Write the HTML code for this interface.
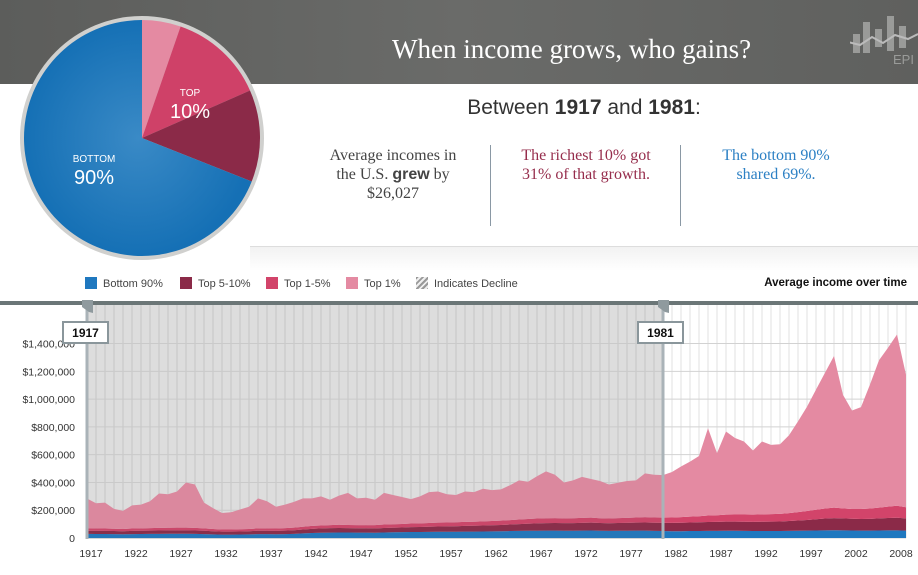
<!DOCTYPE html>
<html><head><meta charset="utf-8"><style>
body{margin:0;width:918px;height:575px;overflow:hidden;background:#fff;font-family:"Liberation Sans",sans-serif}
#hdr{position:absolute;left:0;top:0;width:918px;height:84px;background:linear-gradient(90deg,#5c5d5b,#6a6b69 50%,#5f605e)}
#title{position:absolute;left:392px;top:34px;font-family:"Liberation Serif",serif;color:#fff;font-size:27px}
.stat{position:absolute;font-family:"Liberation Serif",serif;font-size:16px;line-height:19px;text-align:center}
.leg{position:absolute;top:277px;font-size:11px;color:#444}
.leg i{display:inline-block;width:12px;height:12px;vertical-align:-2px;margin-right:6px}
</style></head><body>
<div id="hdr"></div>
<div id="title">When income grows, who gains?</div>
<svg style="position:absolute;left:850px;top:14px" width="68" height="52">
<g fill="#9a9b99"><rect x="3" y="20" width="7" height="19"/><rect x="13" y="8" width="7" height="31"/><rect x="25" y="15" width="7" height="18"/><rect x="37" y="2" width="7" height="35"/><rect x="49" y="12" width="7" height="22"/></g>
<polyline points="-2,28 10,31 22,23 33,29 45,21 58,25 68,20" fill="none" stroke="#bbb" stroke-width="2"/>
<text x="43" y="50" fill="#9a9b99" font-size="13" font-family="Liberation Sans">EPI</text></svg>
<svg style="position:absolute;left:0;top:0" width="290" height="270">
<defs><radialGradient id="bg" cx="0.5" cy="0.5" r="0.5"><stop offset="0" stop-color="#3a8ac6"/><stop offset="1" stop-color="#1570b5"/></radialGradient></defs>
<circle cx="142" cy="138" r="122" fill="#d0d0ce"/>
<g id="pie"></g>
<text x="190" y="96" fill="#fff" font-size="10" text-anchor="middle">TOP</text>
<text x="190" y="118" fill="#fff" font-size="20" text-anchor="middle">10%</text>
<text x="94" y="162" fill="#fff" font-size="10" text-anchor="middle">BOTTOM</text>
<text x="94" y="184" fill="#fff" font-size="20" text-anchor="middle">90%</text>
</svg>
<div style="position:absolute;left:0;top:96px;width:1168px;text-align:center;font-size:21px;color:#333">Between <b>1917</b> and <b>1981</b>:</div>
<div class="stat" style="left:318px;top:146px;width:150px;color:#444">Average incomes in the U.S. <b style="font-family:'Liberation Sans'">grew</b> by $26,027</div>
<div style="position:absolute;left:490px;top:145px;width:1px;height:81px;background:#8a98a4"></div>
<div class="stat" style="left:512px;top:146px;width:148px;color:#962d4c">The richest 10% got 31% of that growth.</div>
<div style="position:absolute;left:680px;top:145px;width:1px;height:81px;background:#8a98a4"></div>
<div class="stat" style="left:712px;top:146px;width:128px;color:#2c80c4">The bottom 90% shared 69%.</div>
<div style="position:absolute;left:250px;top:246px;width:668px;height:24px;border-top:1px solid #ddd;background:linear-gradient(#f2f2f2,#fff)"></div>
<div class="leg" style="left:85px"><i style="background:#1f78bf"></i>Bottom 90%</div>
<div class="leg" style="left:180px"><i style="background:#8b2a48"></i>Top 5-10%</div>
<div class="leg" style="left:266px"><i style="background:#d2446a"></i>Top 1-5%</div>
<div class="leg" style="left:346px"><i style="background:#e48aa2"></i>Top 1%</div>
<div class="leg" style="left:416px"><i style="background:repeating-linear-gradient(135deg,#999 0 2px,#eee 2px 4px)"></i>Indicates Decline</div>
<div style="position:absolute;right:11px;top:277px;font-size:11.5px;font-weight:bold;color:#111">Average income over time</div>
<svg id="ch" style="position:absolute;left:0;top:295px" width="918" height="280"></svg>
<script>
const years=[];for(let y=1917;y<=2008;y++)years.push(y);
const bottom90=[30,29,29,28,27,28,29,30,30,31,31,31,30,28,26,24,24,25,26,28,28,27,28,30,33,36,38,39,40,40,39,39,38,40,41,42,43,43,44,45,45,45,46,46,47,48,49,50,51,52,52,53,53,52,52,53,54,52,51,52,52,53,53,51,50,49,49,50,50,51,51,52,52,51,50,50,50,50,51,52,53,54,55,56,55,54,53,53,54,55,55,53];
const top5to10=[22,22,22,22,22,23,23,23,24,24,24,24,24,24,23,22,22,22,23,24,24,24,25,26,28,30,31,32,32,31,31,31,31,32,33,34,35,36,37,38,39,40,41,42,43,44,45,47,49,51,53,54,55,55,55,56,57,56,55,56,57,58,59,59,59,60,61,62,63,64,65,66,66,66,66,67,68,69,71,74,77,81,85,87,86,85,84,85,87,89,91,88];
const top1to5=[18,18,17,17,16,17,17,18,19,19,20,20,19,17,16,15,15,16,16,17,17,17,18,19,20,21,21,22,23,23,23,23,24,25,25,25,26,26,27,28,28,28,29,29,30,30,31,32,33,34,35,35,35,34,35,36,36,34,34,35,36,37,38,38,38,39,40,42,44,47,48,50,51,52,52,53,54,55,57,60,64,68,72,76,72,70,72,74,78,82,86,80];
const top1=[214,181,187,143,130,167,171,194,247,241,260,325,312,186,150,119,124,142,160,216,196,157,169,185,204,198,210,182,210,231,192,197,182,228,211,194,176,195,222,224,203,197,219,213,235,223,225,251,282,268,305,338,312,259,273,295,278,268,245,255,265,267,315,307,306,327,365,396,433,628,447,599,551,526,462,525,498,501,561,654,751,865,978,1091,817,709,733,893,1061,1144,1233,954];
const yTicks=[0,200,400,600,800,1000,1200,1400];
const xTickYears=[1917,1922,1927,1932,1937,1942,1947,1952,1957,1962,1967,1972,1977,1982,1987,1992,1997,2002,2008];
const pieShares=[5.3,13.1,12.6,69];
const pieColors=['#e48aa2','#cf4168','#8b2a48','url(#bg)'];
const pieNames=['pie-top1','pie-top1-5','pie-top5-10','pie-bottom90'];
const NS='http://www.w3.org/2000/svg';
function mk(p,t,a){const e=document.createElementNS(NS,t);for(const k in a)e.setAttribute(k,a[k]);p.appendChild(e);return e;}
const pg=document.getElementById('pie');let a0=0;const tot=pieShares.reduce((a,b)=>a+b,0);
pieShares.forEach((s,i)=>{const a1=a0+s/tot*2*Math.PI,r=118,cx=142,cy=138;
const p=mk(pg,'path',{d:`M${cx},${cy}L${cx+r*Math.sin(a0)},${cy-r*Math.cos(a0)}A${r},${r} 0 ${a1-a0>Math.PI?1:0} 1 ${cx+r*Math.sin(a1)},${cy-r*Math.cos(a1)}Z`,fill:pieColors[i]});

a0=a1;});
const svg=document.getElementById('ch');
const X=y=>87+(y-1917)*9.0, Y=v=>243-v*0.1389;
const X0=87,X1=906;
mk(svg,'rect',{x:0,y:6,width:918,height:4,fill:'#6b7677'});
mk(svg,'rect',{x:X0,y:10,width:X(1981)-X0,height:234,fill:'#e6e6e6'});
years.forEach(y=>{mk(svg,'line',{x1:X(y),x2:X(y),y1:10,y2:243,stroke:y<=1981?'#cdcdcd':'#e2e2e2','stroke-width':1});});
yTicks.forEach(t=>{mk(svg,'line',{x1:X0,x2:X1,y1:Y(t),y2:Y(t),stroke:'#d2d2d2'});
const tx=mk(svg,'text',{x:75,y:Y(t)+4,'font-size':10.5,'text-anchor':'end',fill:'#333'});tx.textContent=t===0?'0':'$'+(t*1000).toLocaleString('en-US');

});
xTickYears.forEach(y=>{const tx=mk(svg,'text',{x:Math.min(X(y)+4,901),y:262,'font-size':10.5,'text-anchor':'middle',fill:'#333'});tx.textContent=y;

});
const layers=[[bottom90,'#1f78bf','area-bottom90'],[top5to10,'#8b2a48','area-top5-10'],[top1to5,'#d2446a','area-top1-5'],[top1,'#e48aa2','area-top1']];
const base=years.map(()=>0);
layers.forEach(([arr,c,n])=>{const lo=base.slice();arr.forEach((v,i)=>base[i]+=v);
let d='M'+years.map((y,i)=>X(y)+','+Y(base[i])).join('L');
for(let i=years.length-1;i>=0;i--)d+='L'+X(years[i])+','+Y(lo[i]);
const p=mk(svg,'path',{d:d+'Z',fill:c});

});
mk(svg,'rect',{x:X0,y:10,width:X(1981)-X0,height:234,fill:'#777','fill-opacity':0.08});
[[1917,-24,'handle-1917'],[1981,-25,'handle-1981']].forEach(([y,off,n])=>{const x=X(y);
const g=mk(svg,'g',{});

mk(g,'line',{x1:x,x2:x,y1:10,y2:244,stroke:'#aab3b8','stroke-width':3});
mk(g,'path',{d:`M${x-5},5h11v13l-4,-1l-7,-5z`,fill:'#8f9a9e'});
mk(g,'rect',{x:x+off,y:27,width:45,height:21,fill:'#fff',stroke:'#8a969b','stroke-width':2});
const t=mk(g,'text',{x:x+off+22.5,y:42,'font-size':12,'font-weight':'bold','text-anchor':'middle',fill:'#111'});t.textContent=y;});
</script>
</body></html>
